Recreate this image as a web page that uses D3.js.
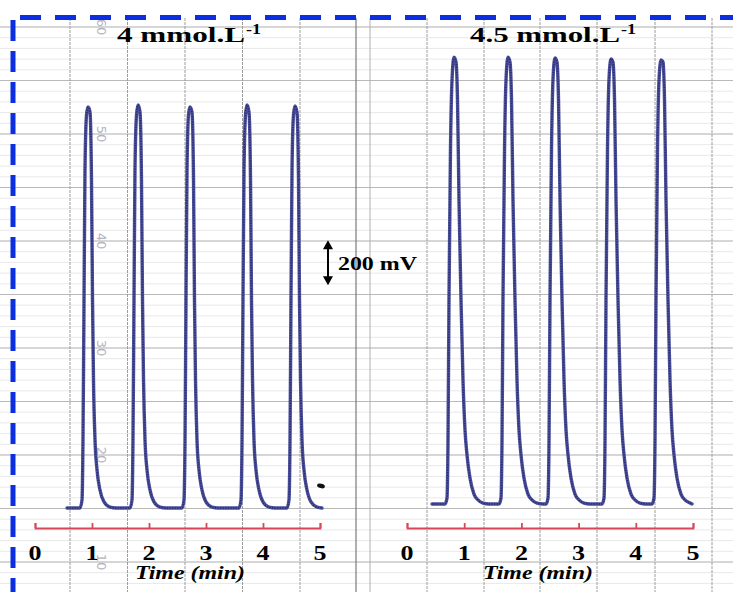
<!DOCTYPE html>
<html><head><meta charset="utf-8">
<script src="https://cdn.jsdelivr.net/npm/d3@7"></script>
<style>html,body{margin:0;padding:0;background:#fff;}svg{display:block}</style>
</head><body>
<svg id="chart" width="733" height="592"></svg>
<script>
// ---------------- data ----------------
const panelTitles = ["4 mmol.L", "4.5 mmol.L"];
const titleSup = "-1";
const timeTicks = [0, 1, 2, 3, 4, 5];
const axisTitle = "Time (min)";
const scaleBarMV = 200;
const scaleBarLabel = "200 mV";
const paperMarks = ["60", "50", "40", "30", "20", "10"];

// 4 mmol.L-1 trace: time (min), signal (mV)
const trace4Time = [
  0.561,
  0.789,0.825,0.842,0.860,0.877,0.904,0.930,0.965,0.991,1.009,1.026,1.053,1.088,1.140,1.211,1.316,1.421,
  1.667,1.702,1.719,1.737,1.754,1.781,1.807,1.842,1.868,1.886,1.904,1.930,1.965,2.018,2.088,2.193,2.298,
  2.579,2.614,2.632,2.649,2.667,2.693,2.719,2.754,2.781,2.798,2.816,2.842,2.877,2.930,3.000,3.105,3.211,
  3.579,3.614,3.632,3.649,3.667,3.693,3.719,3.754,3.781,3.798,3.816,3.842,3.877,3.930,4.000,4.105,4.211,
  4.421,4.456,4.474,4.491,4.509,4.535,4.561,4.596,4.623,4.640,4.658,4.684,4.719,4.772,4.842,4.947,5.035
];
const trace4MV = [
  0,
  0,36,302,924,1502,1747,1782,1760,1458,924,569,302,169,80,27,4,0,
  0,36,302,924,1502,1747,1791,1760,1458,924,569,302,169,80,27,4,0,
  0,36,302,924,1502,1747,1782,1760,1458,924,569,302,169,80,27,4,0,
  0,36,302,924,1502,1747,1791,1760,1458,924,569,302,169,80,27,4,0,
  0,36,302,924,1502,1747,1787,1760,1458,924,569,302,169,80,27,4,0
];

// 4.5 mmol.L-1 trace: time (min), signal (mV)
const trace45Time = [
  0.437,
  0.664,0.699,0.717,0.734,0.760,0.787,0.822,0.857,0.883,0.909,0.944,0.979,1.014,1.049,1.101,1.171,1.241,1.329,1.434,
  1.608,1.643,1.661,1.678,1.705,1.731,1.766,1.801,1.827,1.853,1.888,1.923,1.958,1.993,2.045,2.115,2.185,2.273,2.378,
  2.430,2.465,2.483,2.500,2.526,2.552,2.587,2.622,2.649,2.675,2.710,2.745,2.780,2.815,2.867,2.937,3.007,3.094,3.199,
  3.409,3.444,3.462,3.479,3.505,3.531,3.566,3.601,3.628,3.654,3.689,3.724,3.759,3.794,3.846,3.916,3.986,4.073,4.178,
  4.283,4.318,4.336,4.353,4.379,4.406,4.441,4.476,4.502,4.528,4.563,4.598,4.633,4.668,4.720,4.790,4.860,4.948,4.983
];
const trace45MV = [
  18,
  18,44,302,924,1591,1902,2004,1982,1813,1369,924,569,347,236,133,62,36,22,18,
  18,44,302,924,1591,1902,2004,1982,1813,1369,924,569,347,236,133,62,36,22,18,
  18,44,302,924,1591,1902,2000,1982,1813,1369,924,569,347,236,133,62,36,22,18,
  18,44,302,924,1591,1902,1996,1982,1813,1369,924,569,347,236,133,62,36,22,18,
  18,44,302,924,1591,1902,1991,1982,1813,1369,924,569,347,236,133,62,36,22,18
];

// ---------------- drawing ----------------
const svg = d3.select("#chart");
const W = 733, H = 592;
const serif = "'Liberation Serif','Times New Roman',Times,serif";

svg.append("rect").attr("width", W).attr("height", H).attr("fill", "#ffffff");

const y = d3.scaleLinear().domain([0, 2000]).range([508, 58]);
const xL = d3.scaleLinear().domain([0, 5]).range([35, 320]);
const xR = d3.scaleLinear().domain([0, 5]).range([407, 693]);

// chart paper grid
const grid = svg.append("g");
const majorH = d3.range(0, 11).map(i => 27 + i * 53.5);
const minorH = d3.range(-2, 60).map(i => 27 + i * 10.7).filter(v => v > 18 && v < H);
grid.selectAll(".mh").data(minorH).join("line")
  .attr("x1", 0).attr("x2", W).attr("y1", d => d).attr("y2", d => d)
  .attr("stroke", "#e8e8e8").attr("stroke-width", 1);
grid.selectAll(".Mh").data(majorH).join("line")
  .attr("x1", 0).attr("x2", W).attr("y1", d => d).attr("y2", d => d)
  .attr("stroke", "#b9b9b9").attr("stroke-width", 1);
const vLeft = [70, 127.5, 185, 242.5, 300];
const vRight = [427, 484, 540, 597, 655, 712];
grid.selectAll(".v").data(vLeft.concat(vRight)).join("line")
  .attr("x1", d => d).attr("x2", d => d).attr("y1", 18).attr("y2", H)
  .attr("stroke", "#9c9c9c").attr("stroke-width", 1).attr("stroke-dasharray", "3,1");
// sheet seam
grid.append("line").attr("x1", 356).attr("x2", 356).attr("y1", 18).attr("y2", H)
  .attr("stroke", "#7a7a7a").attr("stroke-width", 1.2);
grid.append("line").attr("x1", 370).attr("x2", 370).attr("y1", 18).attr("y2", H)
  .attr("stroke", "#b0b0b0").attr("stroke-width", 1);

// faint printed numbers on the paper
grid.selectAll(".pm").data(paperMarks).join("text")
  .attr("transform", (d, i) => `translate(102,${majorH[i * 2]}) rotate(90)`)
  .attr("text-anchor", "middle").attr("dy", "0.35em")
  .attr("font-family", "'DejaVu Sans',sans-serif").attr("font-size", 13)
  .attr("fill", "#b4b4c0").text(d => d);

// traces
function drawTrace(times, mvs, x) {
  const pts = times.map((t, i) => [x(t), y(mvs[i])]);
  const line = d3.line().curve(d3.curveMonotoneX);
  svg.append("path").attr("d", line(pts)).attr("fill", "none")
    .attr("stroke", "#4a4f98").attr("stroke-width", 3.4)
    .attr("stroke-linejoin", "round").attr("stroke-linecap", "round");
  svg.append("path").attr("d", line(pts)).attr("fill", "none")
    .attr("stroke", "#262a70").attr("stroke-width", 1.6)
    .attr("stroke-dasharray", "1.2,1.4");
}
drawTrace(trace4Time, trace4MV, xL);
drawTrace(trace45Time, trace45MV, xR);

// small pen mark near end of first trace
svg.append("ellipse").attr("cx", xL(5.0) + 1).attr("cy", y(98)).attr("rx", 4).attr("ry", 2.2)
  .attr("transform", `rotate(15,${xL(5.0) + 1},${y(98)})`).attr("fill", "#111");

// time axes (red) + labels
[[xL, 190], [xR, 538]].forEach(([x, cx]) => {
  const ax = svg.append("g").attr("transform", "translate(0,528)")
    .call(d3.axisTop(x).tickValues(timeTicks).tickSize(5).tickSizeOuter(5).tickFormat(""));
  ax.selectAll("path,line").attr("stroke", "#d8465a").attr("stroke-width", 1.8);
  svg.append("g").selectAll("text").data(timeTicks).join("text")
    .attr("x", d => x(d)).attr("y", 560).attr("text-anchor", "middle")
    .attr("font-family", serif).attr("font-weight", "bold").attr("font-size", 21)
    .attr("textLength", 13).attr("lengthAdjust", "spacingAndGlyphs")
    .attr("fill", "#000").text(d => d);
  svg.append("text").attr("x", cx - 55).attr("y", 579)
    .attr("font-family", serif).attr("font-weight", "bold").attr("font-style", "italic")
    .attr("font-size", 18).attr("textLength", 110).attr("lengthAdjust", "spacingAndGlyphs")
    .attr("fill", "#000").text(axisTitle);
});

// titles
[[117, 128], [470, 150]].forEach(([tx, tl], i) => {
  svg.append("text").attr("x", tx).attr("y", 42)
    .attr("font-family", serif).attr("font-weight", "bold").attr("font-size", 22)
    .attr("textLength", tl).attr("lengthAdjust", "spacingAndGlyphs")
    .attr("fill", "#000").text(panelTitles[i]);
  svg.append("text").attr("x", tx + tl + 1).attr("y", 34)
    .attr("font-family", serif).attr("font-weight", "bold").attr("font-size", 14)
    .attr("textLength", 15).attr("lengthAdjust", "spacingAndGlyphs")
    .attr("fill", "#000").text(titleSup);
});

// 200 mV scale bar
const sbX = xL(5.14), sbLo = 990;
const yTop = y(sbLo + scaleBarMV), yBot = y(sbLo);
svg.append("line").attr("x1", sbX).attr("x2", sbX).attr("y1", yTop + 6).attr("y2", yBot - 6)
  .attr("stroke", "#000").attr("stroke-width", 2);
svg.append("path").attr("d", `M${sbX},${yTop}L${sbX - 5},${yTop + 9}L${sbX + 5},${yTop + 9}Z`).attr("fill", "#000");
svg.append("path").attr("d", `M${sbX},${yBot}L${sbX - 5},${yBot - 9}L${sbX + 5},${yBot - 9}Z`).attr("fill", "#000");
svg.append("text").attr("x", sbX + 10).attr("y", (yTop + yBot) / 2 + 7)
  .attr("font-family", serif).attr("font-weight", "bold").attr("font-size", 18)
  .attr("textLength", 79).attr("lengthAdjust", "spacingAndGlyphs")
  .attr("fill", "#000").text(scaleBarLabel);

// blue dashed frame
svg.append("line").attr("x1", 20).attr("x2", W).attr("y1", 17.5).attr("y2", 17.5)
  .attr("stroke", "#0b2ee0").attr("stroke-width", 5).attr("stroke-dasharray", "21,14");
svg.append("line").attr("x1", 13).attr("x2", 13).attr("y1", 20).attr("y2", H)
  .attr("stroke", "#0b2ee0").attr("stroke-width", 5).attr("stroke-dasharray", "21,10");
</script>
</body></html>
